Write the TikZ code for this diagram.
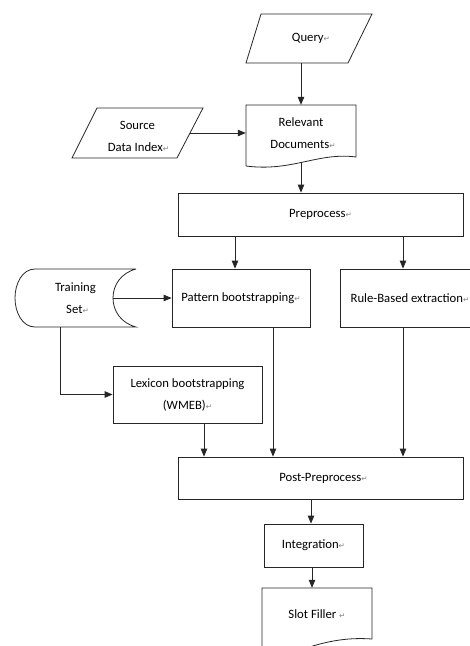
\documentclass[tikz,border=0pt]{standalone}
\usepackage{fontspec}
\setmainfont{Carlito}
\newfontfamily\symfont{DejaVu Sans}
\usetikzlibrary{arrows.meta}
\newcommand\retm{{\symfont\fontsize{7.5}{7.5}\selectfont\textcolor{black!50}{↵}}}
\begin{document}
\begin{tikzpicture}[x=1pt,y=-1pt,
  line/.style={draw=black!85, line width=0.8pt},
  arr/.style={line, -{Triangle[length=8pt,width=6.5pt]}},
  lbl/.style={font=\fontsize{12.7}{22}\selectfont, align=center, inner sep=0pt, text=black},
  rbox/.style={line, lbl},
  sbox/.style={lbl}
]
\useasboundingbox (0,0) rectangle (470,646);
\clip (0,0) rectangle (470,646);

% ---- shapes drawn directly (outlines) ----
% Query parallelogram
\draw[line] (261,14) -- (372,14) -- (348,63) -- (246,63) -- cycle;
% Source Data Index parallelogram
\draw[line] (97,108) -- (203,108) -- (177,158) -- (72,158) -- cycle;
% Relevant Documents (document shape)
\draw[line] (246,166) -- (246,105) -- (356,105) -- (356,157)
  .. controls (318,152) and (292,172) .. (246,166);
% Training Set (stored data shape)
\draw[line] (136,269) -- (35,269) .. controls (22,269) and (15,284) .. (15,298)
  .. controls (15,312) and (22,327) .. (35,327) -- (136,327)
  .. controls (121,323) and (113,311) .. (113,298)
  .. controls (113,285) and (121,273) .. (136,269);
% Slot Filler (document shape, cut by the page edge)
\draw[line] (262,660) -- (262,588) -- (372,588) -- (372,639)
  .. controls (345,637) and (322,642) .. (295,652);

% ---- nodes ----
\node[sbox, minimum width=126, minimum height=49] (q) at (309,38.5) {\hspace*{4pt}Query\retm};
\node[sbox, minimum width=131, minimum height=50] (sd) at (137.5,136) {Source\\\hspace*{2pt}Data Index\retm};
\node[sbox, minimum width=110, minimum height=56] (rd) at (301,133) {Relevant\\\hspace*{4pt}Documents\retm};
\node[rbox, minimum width=285, minimum height=43] (pre) at (320.5,214.5) {Preprocess\retm};
\node[sbox, minimum width=121, minimum height=58] (ts) at (75.5,298) {Training\\\hspace*{4pt}Set\retm};
\node[rbox, minimum width=138, minimum height=58] (pb) at (241,298) {Pattern bootstrapping\retm};
\node[rbox, minimum width=140, minimum height=58] (rb) at (410,298) {Rule-Based extraction\retm};
\node[rbox, minimum width=149, minimum height=57] (lex) at (187.5,394.5) {Lexicon bootstrapping\\(WMEB)\retm};
\node[rbox, minimum width=285, minimum height=42] (post) at (320.5,478) {\hspace*{6pt}Post-Preprocess\retm};
\node[rbox, minimum width=99, minimum height=43] (integ) at (313.5,545.5) {Integration\retm};
\node[sbox, minimum width=110, minimum height=52] (sf) at (317,614) {Slot Filler\ \retm};

% ---- helper coordinates ----
\coordinate (sdR) at (190,133);
\coordinate (rdB) at (301,163);
\coordinate (tsin) at (113,298);
\coordinate (xa) at (235,0);
\coordinate (xb) at (403,0);
\coordinate (xc) at (273,0);
\coordinate (xd) at (204,0);
\coordinate (xe) at (311,0);
\coordinate (xf) at (312,0);
\coordinate (xg) at (60,0);

% ---- connectors ----
\draw[arr] (rd.north |- q.south) -- (rd.north);
\draw[arr] (sdR) -- (rd.west);
\draw[arr] (rdB) -- (rd.south |- pre.north);
\draw[arr] (pre.south -| xa) -- (pb.north -| xa);
\draw[arr] (pre.south -| xb) -- (rb.north -| xb);
\draw[arr] (tsin) -- (pb.west);
\draw[arr] (ts.south -| xg) |- (lex.west);
\draw[arr] (pb.south -| xc) -- (post.north -| xc);
\draw[arr] (lex.south -| xd) -- (post.north -| xd);
\draw[arr] (rb.south -| xb) -- (post.north -| xb);
\draw[arr] (post.south -| xe) -- (integ.north -| xe);
\draw[arr] (integ.south -| xf) -- (sf.north -| xf);
\end{tikzpicture}
\end{document}
